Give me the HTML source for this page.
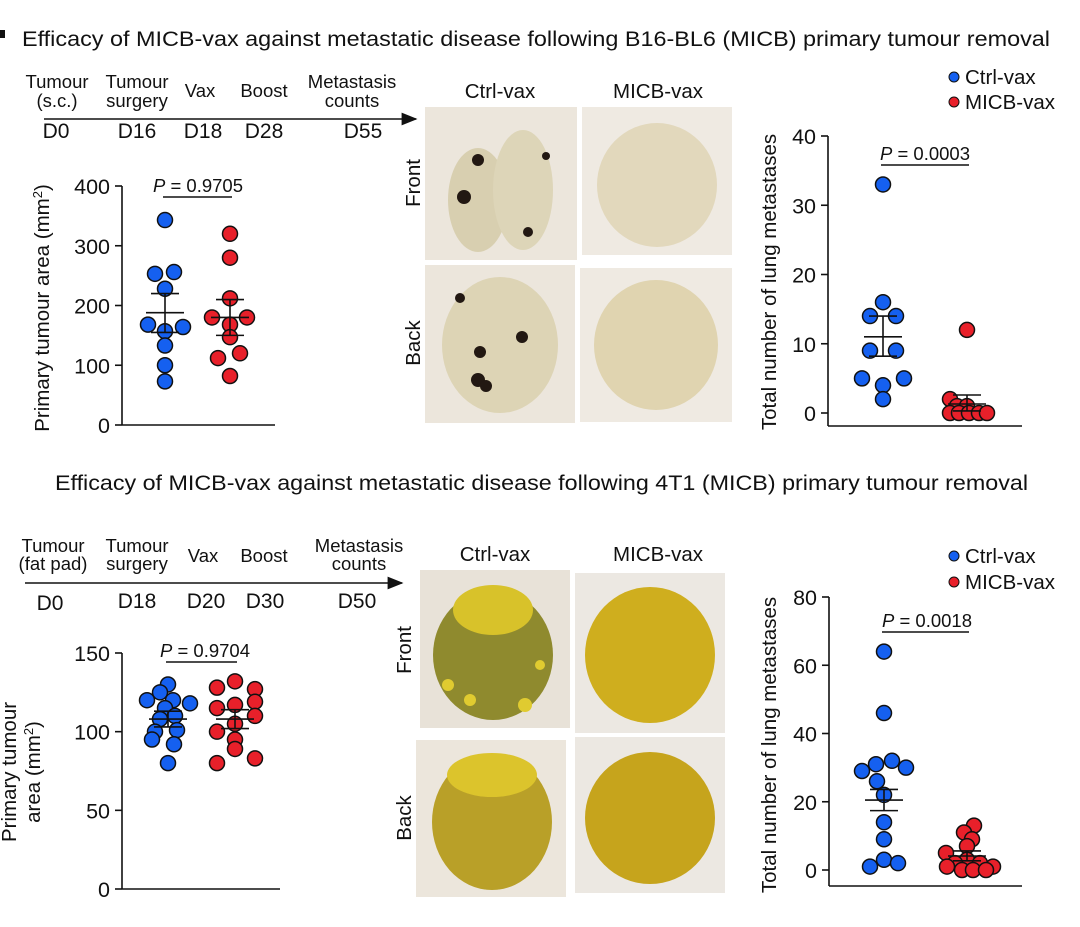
<!DOCTYPE html>
<html><head><meta charset="utf-8">
<style>
html,body{margin:0;padding:0;background:#fff;}
svg{display:block;font-family:"Liberation Sans",Arial,sans-serif;}
</style></head>
<body>
<svg id="fig" width="1080" height="927" viewBox="0 0 1080 927" xmlns="http://www.w3.org/2000/svg">
<defs>
<marker id="arr" markerWidth="10" markerHeight="8" refX="9" refY="4" orient="auto"><path d="M0,0 L10,4 L0,8 Z" fill="#111"/></marker>
</defs>
<g fill="#111">
<rect x="0" y="30" width="5" height="8"/>
<text x="22" y="46" font-size="21" textLength="1028" lengthAdjust="spacingAndGlyphs">Efficacy of MICB-vax against metastatic disease following B16-BL6 (MICB) primary tumour removal</text>
<text x="55" y="490" font-size="21" textLength="973" lengthAdjust="spacingAndGlyphs">Efficacy of MICB-vax against metastatic disease following 4T1 (MICB) primary tumour removal</text>

<g font-size="18.5" text-anchor="middle">
<text x="57" y="88">Tumour</text><text x="57" y="107">(s.c.)</text>
<text x="137" y="88">Tumour</text><text x="137" y="107">surgery</text>
<text x="200" y="97">Vax</text><text x="264" y="97">Boost</text>
<text x="352" y="88">Metastasis</text><text x="352" y="107">counts</text>
<line x1="44" y1="119" x2="416" y2="119" stroke="#111" stroke-width="1.6" marker-end="url(#arr)"/>
<g font-size="21"><text x="56" y="138">D0</text><text x="137" y="138">D16</text><text x="203" y="138">D18</text><text x="264" y="138">D28</text><text x="363" y="138">D55</text></g>
</g>
<g font-size="18.5" text-anchor="middle">
<text x="53" y="552">Tumour</text><text x="53" y="570">(fat pad)</text>
<text x="137" y="552">Tumour</text><text x="137" y="570">surgery</text>
<text x="203" y="562">Vax</text><text x="264" y="562">Boost</text>
<text x="359" y="552">Metastasis</text><text x="359" y="570">counts</text>
<line x1="25" y1="583" x2="402" y2="583" stroke="#111" stroke-width="1.6" marker-end="url(#arr)"/>
<g font-size="21"><text x="50" y="610">D0</text><text x="137" y="608">D18</text><text x="206" y="608">D20</text><text x="265" y="608">D30</text><text x="357" y="608">D50</text></g>
</g>

<g font-size="20.5" text-anchor="middle">
<text x="500" y="98">Ctrl-vax</text><text x="658" y="98">MICB-vax</text>
<text x="495" y="561">Ctrl-vax</text><text x="658" y="561">MICB-vax</text>
<text transform="translate(420,183) rotate(-90)">Front</text>
<text transform="translate(420,343) rotate(-90)">Back</text>
<text transform="translate(411,650) rotate(-90)">Front</text>
<text transform="translate(411,818) rotate(-90)">Back</text>
</g>

<g font-size="20.5">
<circle cx="954" cy="77" r="5" fill="#1560f0" stroke="#111"/><text x="965" y="84">Ctrl-vax</text>
<circle cx="954" cy="102" r="5" fill="#e8202a" stroke="#111"/><text x="965" y="109">MICB-vax</text>
</g>
<g font-size="20.5">
<circle cx="954" cy="556" r="5" fill="#1560f0" stroke="#111"/><text x="965" y="563">Ctrl-vax</text>
<circle cx="954" cy="582" r="5" fill="#e8202a" stroke="#111"/><text x="965" y="589">MICB-vax</text>
</g>
</g>

<!-- Photos -->
<g>
<rect x="425" y="107" width="152" height="153" fill="#ece6dc"/>
<ellipse cx="478" cy="200" rx="30" ry="52" fill="#d8cfb0"/><ellipse cx="523" cy="190" rx="30" ry="60" fill="#ddd5b8"/>
<circle cx="464" cy="197" r="7" fill="#221812"/><circle cx="478" cy="160" r="6" fill="#221812"/><circle cx="546" cy="156" r="4" fill="#221812"/><circle cx="528" cy="232" r="5" fill="#221812"/>
</g>
<g>
<rect x="582" y="107" width="150" height="148" fill="#efeae2"/>
<ellipse cx="657" cy="185" rx="60" ry="62" fill="#e2d8bc"/>
</g>
<g>
<rect x="425" y="265" width="150" height="158" fill="#ece6dc"/>
<ellipse cx="500" cy="345" rx="58" ry="68" fill="#ddd4b5"/>
<circle cx="480" cy="352" r="6" fill="#221812"/><circle cx="460" cy="298" r="5" fill="#221812"/><circle cx="522" cy="337" r="6" fill="#221812"/><circle cx="478" cy="380" r="7" fill="#221812"/><circle cx="486" cy="386" r="6" fill="#221812"/>
</g>
<g>
<rect x="580" y="268" width="152" height="154" fill="#efeae2"/>
<ellipse cx="656" cy="345" rx="62" ry="65" fill="#e0d4b0"/>
</g>
<g>
<rect x="420" y="570" width="150" height="158" fill="#e8e2d8"/>
<ellipse cx="493" cy="655" rx="60" ry="65" fill="#8f8a2e"/>
<ellipse cx="493" cy="610" rx="40" ry="25" fill="#d8c22a"/>
<circle cx="448" cy="685" r="6" fill="#e0cb30"/><circle cx="470" cy="700" r="6" fill="#e0cb30"/><circle cx="525" cy="705" r="7" fill="#e0cb30"/><circle cx="540" cy="665" r="5" fill="#e0cb30"/>
</g>
<g>
<rect x="575" y="573" width="150" height="160" fill="#ece8e2"/>
<ellipse cx="650" cy="655" rx="65" ry="68" fill="#cfae1e"/>
</g>
<g>
<rect x="416" y="740" width="150" height="157" fill="#ece6dc"/>
<ellipse cx="492" cy="822" rx="60" ry="68" fill="#b9a028"/>
<ellipse cx="492" cy="775" rx="45" ry="22" fill="#dcc42c"/>
</g>
<g>
<rect x="575" y="737" width="150" height="156" fill="#ece8e2"/>
<ellipse cx="650" cy="818" rx="65" ry="66" fill="#c6a41c"/>
</g>

<g id="charts"></g>
</svg>
<script>
// ---- Chart A: top primary tumour area ----
const aCtrl = [343, 253, 256, 228, 168, 164, 157, 133, 100, 73];
const aCtrlDx = [0, -10, 9, 0, -17, 18, 0, 0, 0, 0];
const aMicb = [320, 280, 212, 180, 180, 168, 147, 112, 120, 82];
const aMicbDx = [0, 0, 0, -18, 17, 0, 0, -12, 10, 0];
const aStats = [[188, 220, 155], [180, 210, 150]];
const aTicks = [0, 100, 200, 300, 400];
// ---- Chart B: top lung metastases ----
const bCtrl = [33, 16, 14, 14, 9, 9, 5, 5, 4, 2];
const bCtrlDx = [0, 0, -13, 13, -13, 13, -21, 21, 0, 0];
const bMicb = [12, 2, 1, 1, 0, 0, 0, 0, 0];
const bMicbDx = [0, -17, -10, 0, -17, -8, 2, 12, 20];
const bStats = [[11, 14, 8.2], [1.3, 2.6, 0.3]];
const bTicks = [0, 10, 20, 30, 40];
// ---- Chart C: bottom primary tumour area ----
const cCtrl = [130, 125, 120, 120, 118, 115, 110, 108, 101, 100, 95, 92, 80];
const cCtrlDx = [0, -8, -21, 5, 22, -3, 7, -8, 9, -13, -16, 6, 0];
const cMicb = [132, 128, 127, 119, 117, 115, 110, 105, 100, 95, 89, 83, 80];
const cMicbDx = [0, -18, 20, 20, 0, -18, 20, 0, -18, 0, 0, 20, -18];
const cStats = [[108, 113, 103], [108, 114, 102]];
const cTicks = [0, 50, 100, 150];
// ---- Chart D: bottom lung metastases ----
const dCtrl = [64, 46, 32, 31, 30, 29, 26, 22, 14, 9, 3, 2, 1];
const dCtrlDx = [0, 0, 8, -8, 22, -22, -7, 0, 0, 0, 0, 14, -14];
const dMicb = [13, 11, 9, 7, 5, 3, 2, 2, 1, 1, 0, 0, 0];
const dMicbDx = [7, -3, 5, 0, -21, 0, -12, 13, -20, 26, -5, 6, 19];
const dStats = [[20.5, 23.6, 17.4], [4.1, 5.6, 2.7]];
const dTicks = [0, 20, 40, 60, 80];

const NS = 'http://www.w3.org/2000/svg';
const root = document.getElementById('charts');
function mk(tag, attrs, parent) {
  const e = document.createElementNS(NS, tag);
  for (const k in attrs) e.setAttribute(k, attrs[k]);
  parent.appendChild(e);
  return e;
}
function chart(cfg) {
  const g = mk('g', {}, root);
  
  
  const y = v => cfg.y0 + (v - cfg.min) / (cfg.max - cfg.min) * (cfg.y1 - cfg.y0);
  const ax = mk('line', {x1: cfg.ax, y1: y(cfg.max), x2: cfg.ax, y2: cfg.axBottom, stroke: '#111', 'stroke-width': 1.6}, g);
  
  
  const bx = mk('line', {x1: cfg.ax, y1: cfg.axBottom, x2: cfg.axEnd, y2: cfg.axBottom, stroke: '#111', 'stroke-width': 1.6}, g);
  
  
  cfg.ticks.forEach(t => {
    mk('line', {x1: cfg.ax - 7, y1: y(t), x2: cfg.ax, y2: y(t), stroke: '#111', 'stroke-width': 1.6}, g);
    const tx = mk('text', {x: cfg.ax - 12, y: y(t) + 8, 'font-size': 21.5, 'text-anchor': 'end', fill: '#111'}, g);
    tx.textContent = t;
    
    
  });
  const tt = mk('text', {transform: `translate(${cfg.titleX},${cfg.titleY}) rotate(-90)`, 'font-size': 20.5, 'text-anchor': 'middle', fill: '#111'}, g);
  
  
  cfg.title.forEach((line, i) => {
    const ts = mk('tspan', {x: 0, dy: i === 0 ? (cfg.title.length > 1 ? -11 : 0) : 24}, tt);
    ts.innerHTML = line;
  });
  const pt = mk('text', {x: cfg.pX, y: cfg.pY, 'font-size': 18.5, 'text-anchor': 'middle', fill: '#111'}, g);
  pt.innerHTML = '<tspan font-style="italic">P</tspan> = ' + cfg.p;
  
  
  mk('line', {x1: cfg.cx[0] - 2, y1: cfg.pY + 5, x2: cfg.cx[1] + 2, y2: cfg.pY + 5, stroke: '#111', 'stroke-width': 1.4}, g);
  const groups = [[cfg.ctrl, cfg.ctrlDx, '#1560f0', 'ctrl'], [cfg.micb, cfg.micbDx, '#e8202a', 'micb']];
  groups.forEach((gr, gi) => {
    gr[0].forEach((v, i) => {
      const c = mk('circle', {cx: cfg.cx[gi] + gr[1][i], cy: y(v), r: 7.5, fill: gr[2], stroke: '#111', 'stroke-width': 1.5}, g);
      
      
    });
  });
  cfg.stats.forEach((s, gi) => {
    const x = cfg.cx[gi];
    const eg = mk('g', {stroke: '#111', 'stroke-width': 1.6}, g);
    
    
    mk('line', {x1: x, y1: y(s[1]), x2: x, y2: y(s[2])}, eg);
    mk('line', {x1: x - 19, y1: y(s[0]), x2: x + 19, y2: y(s[0])}, eg);
    mk('line', {x1: x - 14, y1: y(s[1]), x2: x + 14, y2: y(s[1])}, eg);
    mk('line', {x1: x - 14, y1: y(s[2]), x2: x + 14, y2: y(s[2])}, eg);
  });
}
chart({name: 'chart-top-tumour-area', min: 0, max: 400, y0: 425, y1: 186, ax: 122, axEnd: 275, axBottom: 425,
  ticks: aTicks, ctrl: aCtrl, ctrlDx: aCtrlDx, micb: aMicb, micbDx: aMicbDx, stats: aStats, cx: [165, 230],
  title: ['Primary tumour area (mm<tspan dy="-7" font-size="13">2</tspan><tspan dy="7">)</tspan>'], titleX: 49, titleY: 308,
  p: '0.9705', pX: 198, pY: 192});
chart({name: 'chart-top-lung-metastases', min: 0, max: 40, y0: 413, y1: 136, ax: 828, axEnd: 1022, axBottom: 426,
  ticks: bTicks, ctrl: bCtrl, ctrlDx: bCtrlDx, micb: bMicb, micbDx: bMicbDx, stats: bStats, cx: [883, 967],
  title: ['Total number of lung metastases'], titleX: 776, titleY: 282,
  p: '0.0003', pX: 925, pY: 160});
chart({name: 'chart-bottom-tumour-area', min: 0, max: 150, y0: 889, y1: 653, ax: 122, axEnd: 280, axBottom: 889,
  ticks: cTicks, ctrl: cCtrl, ctrlDx: cCtrlDx, micb: cMicb, micbDx: cMicbDx, stats: cStats, cx: [168, 235],
  title: ['Primary tumour', 'area (mm<tspan dy="-7" font-size="13">2</tspan><tspan dy="7">)</tspan>'], titleX: 27, titleY: 772,
  p: '0.9704', pX: 205, pY: 657});
chart({name: 'chart-bottom-lung-metastases', min: 0, max: 80, y0: 870, y1: 597, ax: 829, axEnd: 1022, axBottom: 886,
  ticks: dTicks, ctrl: dCtrl, ctrlDx: dCtrlDx, micb: dMicb, micbDx: dMicbDx, stats: dStats, cx: [884, 967],
  title: ['Total number of lung metastases'], titleX: 776, titleY: 745,
  p: '0.0018', pX: 927, pY: 627});
</script>
</body></html>
